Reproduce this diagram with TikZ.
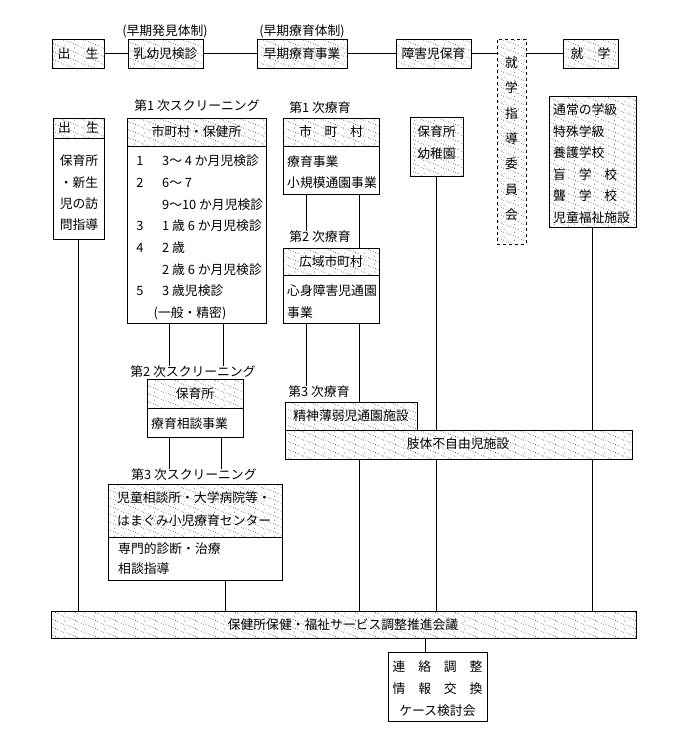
\documentclass[tikz,border=0pt]{standalone}
\usepackage{fontspec}
\setmainfont{Noto Sans CJK JP}
\usetikzlibrary{patterns.meta}
\newcommand\myfs{\fontsize{12.8}{15}\selectfont}
\pgfdeclarepattern{
  name=dothatch,
  type=uncolored,
  bottom left={\pgfpoint{0pt}{0pt}},
  top right={\pgfpoint{20pt}{8pt}},
  tile size={\pgfpoint{20pt}{8pt}},
  code={
    \pgfpathcircle{\pgfpoint{1.25pt}{7.5pt}}{0.42pt}
    \pgfpathcircle{\pgfpoint{3.75pt}{6.5pt}}{0.42pt}
    \pgfpathcircle{\pgfpoint{6.25pt}{5.5pt}}{0.42pt}
    \pgfpathcircle{\pgfpoint{8.75pt}{4.5pt}}{0.42pt}
    \pgfpathcircle{\pgfpoint{11.25pt}{3.5pt}}{0.42pt}
    \pgfpathcircle{\pgfpoint{13.75pt}{2.5pt}}{0.42pt}
    \pgfpathcircle{\pgfpoint{16.25pt}{1.5pt}}{0.42pt}
    \pgfpathcircle{\pgfpoint{18.75pt}{0.5pt}}{0.42pt}
    \pgfpathcircle{\pgfpoint{5pt}{1pt}}{0.42pt}
    \pgfpathcircle{\pgfpoint{15pt}{6.5pt}}{0.42pt}
    \pgfusepath{fill}
  }
}
\newcommand\mybox[7]{%
  \pgfmathsetmacro\mbw{#5-#3}\pgfmathsetmacro\mbh{#6-#4}%
  \pgfmathsetmacro\mbx{(#3+#5)/2}\pgfmathsetmacro\mby{(#4+#6)/2}%
  \node[#2, minimum width=\mbw pt, minimum height=\mbh pt] (#1) at (\mbx,\mby) {#7};}
\tikzset{
  base/.style={draw, line width=0.9pt, inner sep=0pt, font=\myfs},
  hat/.style={base, pattern=dothatch},
  plain/.style={base, fill=white},
  lab/.style={inner sep=0pt, font=\myfs},
  conn/.style={line width=0.9pt},
}
\begin{document}
\begin{tikzpicture}[x=1pt, y=-1pt]
\fill[white] (0,0) rectangle (679,750);
\useasboundingbox (0,0) rectangle (679,750);

% top row
\mybox{t1}{hat}{52}{39}{104}{68}{出\hspace{1.2em}生}
\mybox{t2}{hat}{128}{39}{203}{68}{乳幼児検診}
\mybox{t3}{hat}{257}{39}{347}{68}{早期療育事業}
\mybox{t4}{hat}{396}{39}{471}{68}{障害児保育}
\mybox{t5}{hat, dashed}{497}{39}{526}{244}{}
\mybox{t6}{hat}{563}{39}{618}{68}{就\hspace{1.1em}学}
\node[lab] (l1) at (165,31) {(早期発見体制)};
\node[lab] (l2) at (302,31) {(早期療育体制)};
\node[lab] (v1) at (511.5,63) {就};
\node[lab] (v2) at (511.5,88) {学};
\node[lab] (v3) at (511.5,114) {指};
\node[lab] (v4) at (511.5,139) {導};
\node[lab] (v5) at (511.5,164) {委};
\node[lab] (v6) at (511.5,190) {員};
\node[lab] (v7) at (511.5,215) {会};
\draw[conn] (t1.east) -- (t2.west);
\draw[conn] (t2.east) -- (t3.west);
\draw[conn] (t3.east) -- (t4.west);
\draw[conn] (t4.east) -- (t4.east -| t5.west);
\draw[conn] (t6.west -| t5.east) -- (t6.west);

% column 1
\mybox{c1h}{hat}{53}{118}{104}{138}{出\hspace{1.2em}生}
\mybox{c1b}{plain}{53}{138}{104}{239}{}
\node[lab] (c1t1) at (79,161) {保育所};
\node[lab] (c1t2) at (79,183) {・新生};
\node[lab] (c1t3) at (79,204) {児の訪};
\node[lab] (c1t4) at (79,225) {問指導};

% column 2: first screening
\node[lab] (s1lab) at (197,106) {第1 次スクリーニング};
\mybox{c2h}{hat}{127}{118}{266}{146}{市町村・保健所}
\mybox{c2b}{plain}{127}{146}{266}{323}{}
\node[lab] (n1) at (140,161) {1};
\node[lab, anchor=west] (i1) at (162,161) {3〜 4 か月児検診};
\node[lab] (n2) at (140,183) {2};
\node[lab, anchor=west] (i2) at (162,183) {6〜 7};
\node[lab, anchor=west] (i3) at (162,205) {9〜10 か月児検診};
\node[lab] (n3) at (140,226) {3};
\node[lab, anchor=west] (i4) at (162,226) {1 歳 6 か月児検診};
\node[lab] (n4) at (140,248) {4};
\node[lab, anchor=west] (i5) at (162,248) {2 歳};
\node[lab, anchor=west] (i6) at (162,270) {2 歳 6 か月児検診};
\node[lab] (n5) at (140,291) {5};
\node[lab, anchor=west] (i7) at (162,291) {3 歳児検診};
\node[lab] (i8) at (190,313) {(一般・精密)};

% second screening
\node[lab] (s2lab) at (193,372) {第2 次スクリーニング};
\mybox{c5h}{hat}{147}{379}{243}{408}{保育所}
\mybox{c5b}{plain}{147}{408}{243}{437}{}
\node[lab, anchor=west] (c5t) at (151,424) {療育相談事業};

% third screening
\node[lab] (s3lab) at (194,475) {第3 次スクリーニング};
\mybox{c6h}{hat}{108}{484}{282}{537}{}
\mybox{c6b}{plain}{108}{537}{282}{580}{}
\node[lab, anchor=west] (c6t1) at (117,498) {児童相談所・大学病院等・};
\node[lab, anchor=west] (c6t2) at (117,521) {はまぐみ小児療育センター};
\node[lab, anchor=west] (c6t3) at (118,549) {専門的診断・治療};
\node[lab, anchor=west] (c6t4) at (118,569) {相談指導};

% column 3
\node[lab] (r1lab) at (320,108) {第1 次療育};
\mybox{c3h}{hat}{283}{118}{379}{146}{市　町　村}
\mybox{c3b}{plain}{283}{146}{379}{194}{}
\node[lab, anchor=west] (c3t1) at (287,162) {療育事業};
\node[lab, anchor=west] (c3t2) at (287,183) {小規模通園事業};
\node[lab] (r2lab) at (320,237) {第2 次療育};
\mybox{c4h}{hat}{283}{248}{379}{275}{広域市町村}
\mybox{c4b}{plain}{283}{275}{379}{323}{}
\node[lab, anchor=west] (c4t1) at (287,291) {心身障害児通園};
\node[lab, anchor=west] (c4t2) at (287,313) {事業};
\node[lab] (r3lab) at (319,392) {第3 次療育};
\mybox{m1}{hat}{285}{402}{417}{430}{精神薄弱児通園施設}
\mybox{m2}{hat}{285}{430}{632}{459}{}
\node[lab] (m2t) at (458,444) {肢体不自由児施設};

% column 4 and 5
\mybox{c7}{hat}{410}{117}{463}{176}{}
\node[lab] (c7t1) at (436.5,132) {保育所};
\node[lab] (c7t2) at (436.5,154) {幼稚園};
\mybox{c8}{hat}{549}{96}{636}{227}{}
\node[lab, anchor=west] (c8t1) at (553,110) {通常の学級};
\node[lab, anchor=west] (c8t2) at (553,131.5) {特殊学級};
\node[lab, anchor=west] (c8t3) at (553,153) {養護学校};
\node[lab, anchor=west] (c8t4) at (553,174.5) {盲　学　校};
\node[lab, anchor=west] (c8t5) at (553,196) {聾　学　校};
\node[lab, anchor=west] (c8t6) at (553,217.5) {児童福祉施設};

% bottom
\mybox{b1}{hat}{51}{611}{636}{638}{}
\node[lab] (b1t) at (343,625) {保健所保健・福祉サービス調整推進会議};
\mybox{b2}{plain}{388}{652}{487}{721}{}
\node[lab] (b2t1) at (437.5,667) {連　絡　調　整};
\node[lab] (b2t2) at (437.5,689) {情　報　交　換};
\node[lab] (b2t3) at (437.5,711) {ケース検討会};

% connector x positions
\coordinate (xA) at (169,0);
\coordinate (xB) at (223,0);
\coordinate (xC) at (221,0);
\coordinate (xD) at (225,0);
\coordinate (xE) at (306,0);
\coordinate (xF) at (359,0);
\coordinate (xG) at (425,0);

\draw[conn] (c1b.south) -- (c1b.south |- b1.north);
\draw[conn] (c2b.south -| xA) -- (s2lab.north -| xA);
\draw[conn] (c2b.south -| xB) -- (s2lab.north -| xB);
\draw[conn] (c5b.south -| xA) -- (s3lab.north -| xA);
\draw[conn] (c5b.south -| xC) -- (s3lab.north -| xC);
\draw[conn] (c6b.south -| xD) -- (b1.north -| xD);
\draw[conn] (c3b.south -| xE) -- (r2lab.north -| xE);
\draw[conn] (c3b.south -| xF) -- (c4h.north -| xF);
\draw[conn] (c4b.south -| xE) -- (r3lab.north -| xE);
\draw[conn] (c4b.south -| xF) -- (m1.north -| xF);
\draw[conn] (m2.south -| xF) -- (b1.north -| xF);
\draw[conn] (c7.south) -- (m2.north -| c7.south);
\draw[conn] (m2.south -| c7.south) -- (b1.north -| c7.south);
\draw[conn] (c8.south) -- (m2.north -| c8.south);
\draw[conn] (m2.south -| c8.south) -- (b1.north -| c8.south);
\draw[conn] (b1.south -| xG) -- (b2.north -| xG);
\end{tikzpicture}
\end{document}
